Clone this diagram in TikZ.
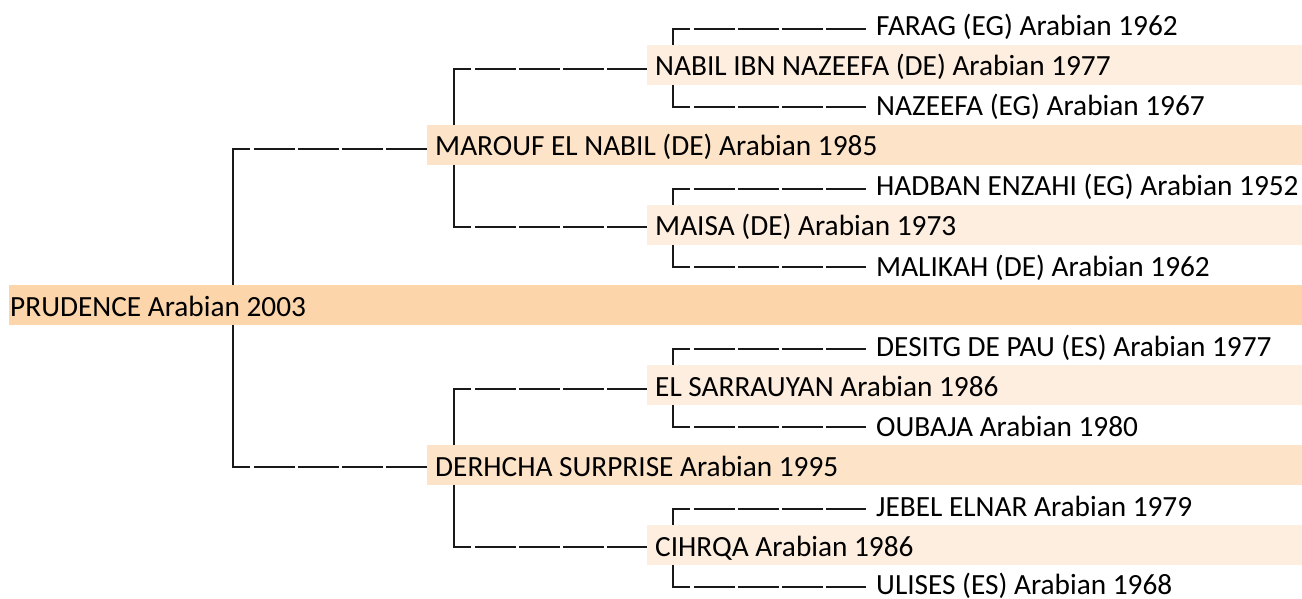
\documentclass[tikz,border=0pt]{standalone}
\usepackage{fontspec}
\setmainfont{Carlito}
\usetikzlibrary{backgrounds,calc}
\definecolor{bandA}{RGB}{252,213,170}
\definecolor{bandB}{RGB}{253,228,201}
\definecolor{bandC}{RGB}{254,238,224}
\begin{document}
\begin{tikzpicture}[x=1pt,y=-1pt,
  horse/.style={anchor=west, inner xsep=8pt, inner ysep=0pt, text height=31pt, text depth=9pt,
                font=\fontsize{29.3}{35}\selectfont},
  gA/.style={horse, fill=bandA, inner xsep=1pt, text width=1291pt, align=flush left},
  gB/.style={horse, fill=bandB, text width=859pt, align=flush left},
  gC/.style={horse, fill=bandC, text width=639pt, align=flush left},
  gD/.style={horse},
  conn/.style={line width=2pt, draw=black!90, line cap=rect},
  run/.style={line width=2pt, draw=black!90, line cap=butt,
              dash pattern=on 17pt off 4pt on 41pt off 3pt on 41pt off 3pt on 41pt off 3pt on 300pt off 10pt}]
\useasboundingbox (0,0) rectangle (1302,599);
\begin{scope}[on background layer]
  \fill[white] (0,0) rectangle (1302,599);
\end{scope}

% generation 0
\node[gA] (P) at (9,305) {PRUDENCE Arabian 2003};
% generation 1
\node[gB] (M) at (427,145) {MAROUF EL NABIL (DE) Arabian 1985};
\node[gB] (D) at (427,465) {DERHCHA SURPRISE Arabian 1995};
% generation 2
\node[gC] (N)  at (647,65)  {NABIL IBN NAZEEFA (DE) Arabian 1977};
\node[gC] (MA) at (647,225) {MAISA (DE) Arabian 1973};
\node[gC] (ES) at (647,385) {EL SARRAUYAN Arabian 1986};
\node[gC] (CI) at (647,545) {CIHRQA Arabian 1986};
% generation 3
\node[gD] (F)  at (868,25)  {FARAG (EG) Arabian 1962};
\node[gD] (NZ) at (868,105) {NAZEEFA (EG) Arabian 1967};
\node[gD] (H)  at (868,185) {HADBAN ENZAHI (EG) Arabian 1952};
\node[gD] (ML) at (868,265) {MALIKAH (DE) Arabian 1962};
\node[gD] (DP) at (868,345) {DESITG DE PAU (ES) Arabian 1977};
\node[gD] (O)  at (868,425) {OUBAJA Arabian 1980};
\node[gD] (J)  at (868,505) {JEBEL ELNAR Arabian 1979};
\node[gD] (U)  at (868,583) {ULISES (ES) Arabian 1968};

\coordinate (V0) at (233,0);
\coordinate (V1) at (454,0);
\coordinate (V2) at (673,0);

\begin{scope}[on background layer]
  % end points of the horizontal runs
  \coordinate (eM)  at ($(M.west)+(0,4)$);
  \coordinate (eD)  at ($(D.west)+(0,2)$);
  \coordinate (eN)  at ($(N.west)+(0,4)$);
  \coordinate (eMA) at ($(MA.west)+(0,2)$);
  \coordinate (eES) at ($(ES.west)+(0,4)$);
  \coordinate (eCI) at ($(CI.west)+(0,2)$);
  \coordinate (eF)  at ($(F.west)+(-2,4)$);
  \coordinate (eNZ) at ($(NZ.west)+(-2,2)$);
  \coordinate (eH)  at ($(H.west)+(-2,4)$);
  \coordinate (eML) at ($(ML.west)+(-2,2)$);
  \coordinate (eDP) at ($(DP.west)+(-2,4)$);
  \coordinate (eO)  at ($(O.west)+(-2,2)$);
  \coordinate (eJ)  at ($(J.west)+(-2,4)$);
  \coordinate (eU)  at ($(U.west)+(-2,4)$);
  % corners
  \coordinate (cM)  at (eM -| V0);
  \coordinate (cD)  at (eD -| V0);
  \coordinate (cN)  at (eN -| V1);
  \coordinate (cMA) at (eMA -| V1);
  \coordinate (cES) at (eES -| V1);
  \coordinate (cCI) at (eCI -| V1);
  \coordinate (cF)  at (eF -| V2);
  \coordinate (cNZ) at (eNZ -| V2);
  \coordinate (cH)  at (eH -| V2);
  \coordinate (cML) at (eML -| V2);
  \coordinate (cDP) at (eDP -| V2);
  \coordinate (cO)  at (eO -| V2);
  \coordinate (cJ)  at (eJ -| V2);
  \coordinate (cU)  at (eU -| V2);
  % verticals
  \draw[conn] (cM) -- (cD);
  \draw[conn] (cN) -- (cMA);
  \draw[conn] (cES) -- (cCI);
  \draw[conn] (cF) -- (cNZ);
  \draw[conn] (cH) -- (cML);
  \draw[conn] (cDP) -- (cO);
  \draw[conn] (cJ) -- (cU);
  % horizontal runs
  \draw[run] (cM) -- (eM);
  \draw[run] (cD) -- (eD);
  \draw[run] (cN) -- (eN);
  \draw[run] (cMA) -- (eMA);
  \draw[run] (cES) -- (eES);
  \draw[run] (cCI) -- (eCI);
  \draw[run] (cF) -- (eF);
  \draw[run] (cNZ) -- (eNZ);
  \draw[run] (cH) -- (eH);
  \draw[run] (cML) -- (eML);
  \draw[run] (cDP) -- (eDP);
  \draw[run] (cO) -- (eO);
  \draw[run] (cJ) -- (eJ);
  \draw[run] (cU) -- (eU);
\end{scope}
\end{tikzpicture}
\end{document}
